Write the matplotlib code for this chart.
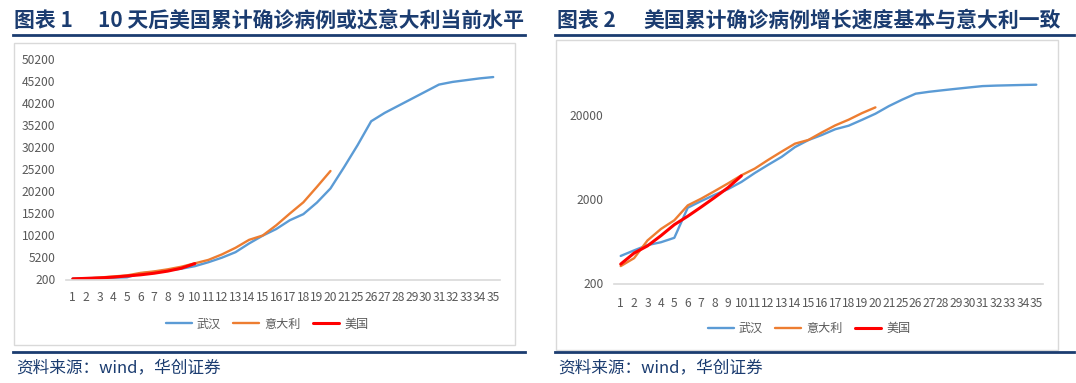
import matplotlib
matplotlib.use('Agg')
import matplotlib.pyplot as plt
from matplotlib.patches import Rectangle
from matplotlib.lines import Line2D

plt.rcParams['font.family'] = ['Noto Sans CJK SC', 'DejaVu Sans']

# --- data ---
days = [str(d) for d in range(1, 22)] + [str(d) for d in range(25, 36)]

wuhan = [425, 495, 572, 618, 698, 1590, 1905, 2261, 2639, 3215,
         4109, 5142, 6384, 8351, 10117, 11618, 13603, 14982, 17600, 20800,
         25600, 30600, 36000, 37900, 39500, 41100, 42700, 44300, 44900, 45300,
         45700, 46000]
italy = [322, 400, 650, 888, 1128, 1694, 2036, 2502, 3089, 3858,
         4636, 5883, 7375, 9172, 10149, 12462, 15113, 17660, 21157, 24747]
usa = [340, 460, 560, 740, 1000, 1260, 1620, 2100, 2750, 3800]

series_names = ['武汉', '意大利', '美国']
series_colors = ['#5B9BD5', '#ED7D31', '#FF0000']

lin_ticks = list(range(200, 50201, 5000))
log_ticks = [200, 2000, 20000]

W, H = 1076, 383
NAVY = '#1B3C70'
GRAY_TXT = '#595959'
GRAY_LINE = '#D9D9D9'

fig = plt.figure(figsize=(W / 100, H / 100), dpi=100)


def fx(x):
    return x / W


def fy(y):
    return 1 - y / H


def add_axes_px(x0, y0, x1, y1):
    # pixel box (top-left origin) -> figure axes
    return fig.add_axes([fx(x0), fy(y1), (x1 - x0) / W, (y1 - y0) / H])


def frame(x0, y0, x1, y1):
    fig.patches.append(Rectangle((fx(x0), fy(y1)), (x1 - x0) / W, (y1 - y0) / H,
                                 transform=fig.transFigure, fill=False,
                                 ec=GRAY_LINE, lw=1.0))


def rule(x0, x1, y):
    fig.lines.append(Line2D([fx(x0), fx(x1)], [fy(y), fy(y)],
                            transform=fig.transFigure, color=NAVY, lw=2.0))


def style_axes(ax, xpad, ypad):
    for s in ['top', 'right', 'left']:
        ax.spines[s].set_visible(False)
    ax.spines['bottom'].set_color(GRAY_LINE)
    ax.spines['bottom'].set_linewidth(1.2)
    ax.tick_params(axis='both', length=0, labelsize=8.7, colors=GRAY_TXT)
    ax.tick_params(axis='x', pad=xpad)
    ax.tick_params(axis='y', pad=ypad)
    ax.set_xlim(-0.5, len(days) - 0.5)
    ax.set_xticks(range(len(days)))
    ax.set_xticklabels(days)
    ax.patch.set_alpha(0)


def draw_series(ax, lw):
    for name, vals, c in zip(series_names, [wuhan, italy, usa], series_colors):
        w = lw + 0.5 if name == '美国' else lw
        ax.plot(range(len(vals)), vals, color=c, lw=w, label=name,
                solid_capstyle='round', solid_joinstyle='round')


# ---------------- left panel ----------------
fig.text(fx(14.5), fy(20.5), '图表 1', fontsize=15, fontweight='bold',
         color=NAVY, ha='left', va='center')
fig.text(fx(98), fy(20.5), '10 天后美国累计确诊病例或达意大利当前水平',
         fontsize=15, fontweight='bold', color=NAVY, ha='left', va='center')
rule(13, 525, 35)
frame(13.5, 43, 515, 345)
rule(13, 525, 352)
fig.text(fx(16), fy(368), '资料来源：wind，华创证券', fontsize=12,
         style='italic', color=NAVY, ha='left', va='center')

ax1 = add_axes_px(66, 58.5, 500, 279.5)
draw_series(ax1, 1.7)
ax1.set_ylim(200, 50200)
ax1.set_yticks(lin_ticks)
ax1.set_yticklabels([str(t) for t in lin_ticks])
style_axes(ax1, xpad=8.5, ypad=7.5)
ax1.legend(loc='center', bbox_to_anchor=(fx(267), fy(324)),
           bbox_transform=fig.transFigure, ncol=3, frameon=False,
           fontsize=8.7, labelcolor=GRAY_TXT, handlelength=2.15,
           handletextpad=0.4, columnspacing=1.05, borderpad=0)

# ---------------- right panel ----------------
fig.text(fx(557), fy(20.5), '图表 2', fontsize=15, fontweight='bold',
         color=NAVY, ha='left', va='center')
fig.text(fx(643), fy(20.5), '美国累计确诊病例增长速度基本与意大利一致',
         fontsize=15, fontweight='bold', color=NAVY, ha='left', va='center')
rule(555, 1074, 35)
frame(556, 40, 1058, 350)
rule(555, 1074, 352)
fig.text(fx(558), fy(368), '资料来源：wind，华创证券', fontsize=12,
         style='italic', color=NAVY, ha='left', va='center')

ax2 = add_axes_px(614, 75, 1043, 283.5)
draw_series(ax2, 1.7)
ax2.set_yscale('log')
ax2.set_ylim(200, 60000)
ax2.set_yticks(log_ticks)
ax2.set_yticklabels([str(t) for t in log_ticks])
ax2.yaxis.set_minor_locator(matplotlib.ticker.NullLocator())
style_axes(ax2, xpad=9.5, ypad=7.5)
ax2.legend(loc='center', bbox_to_anchor=(fx(809), fy(328.5)),
           bbox_transform=fig.transFigure, ncol=3, frameon=False,
           fontsize=8.7, labelcolor=GRAY_TXT, handlelength=2.15,
           handletextpad=0.4, columnspacing=1.05, borderpad=0)

fig.savefig('out.png', dpi=100)
